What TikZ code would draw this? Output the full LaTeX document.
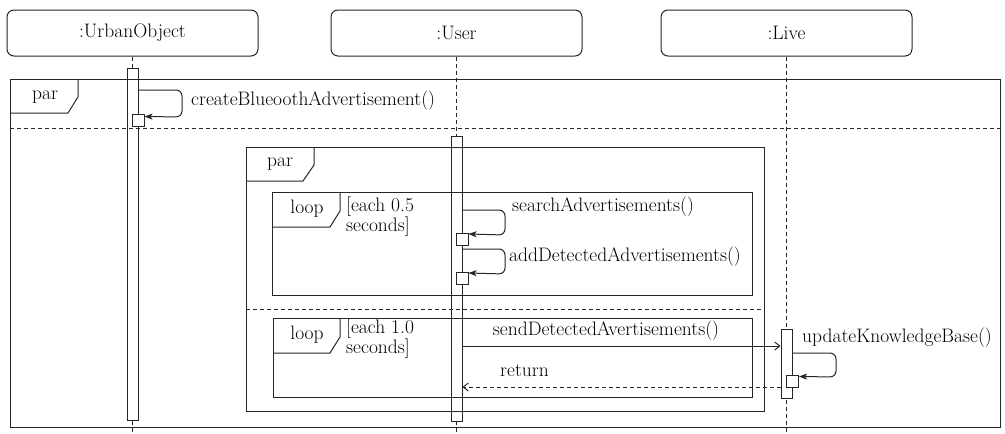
\documentclass[tikz,border=0pt]{standalone}
\usetikzlibrary{positioning,arrows.meta,calc}

\tikzset{
  head/.style={draw, line width=1pt, rounded corners=7pt, minimum width=251pt, minimum height=46pt},
  lifeline/.style={line width=1pt, dash pattern=on 4pt off 3pt},
  actbar/.style={draw, fill=white, line width=1pt, minimum width=11pt, inner sep=0pt},
  execbox/.style={draw, fill=white, line width=1pt, minimum size=12pt, inner sep=0pt},
  fragment/.style={draw, line width=1pt},
  callmsg/.style={line width=1pt, rounded corners=6pt, -{Stealth[length=8pt,width=6pt,inset=2pt]}},
  asyncmsg/.style={line width=1pt, -{Straight Barb[length=5pt,width=8pt]}},
  replymsg/.style={line width=1pt, dash pattern=on 4pt off 3pt, -{Straight Barb[length=5pt,width=8pt]}},
  lbl/.style={inner sep=0pt}
}

\begin{document}
\begin{tikzpicture}[x=1pt, y=-1pt, font=\fontsize{19.5}{20}\selectfont, draw=black!85]
    \useasboundingbox (0,0) rectangle (1005,434);

    % lifeline heads
    \node[head] (urban) at (132.5,33) {:UrbanObject};
    \node[head] (user) at (456.5,33) {:User};
    \node[head] (live) at (786.5,33) {:Live};

    \coordinate (urbanend) at (132.5,434);
    \coordinate (userend) at (456.5,434);
    \coordinate (liveend) at (786.5,434);
    \draw[lifeline] (urban.south) -- (urbanend);
    \draw[lifeline] (user.south) -- (userend);
    \draw[lifeline] (live.south) -- (liveend);

    % activation bars
    \node[actbar, minimum height=352pt] (urbanbar) at (132.5,244) {};
    \node[actbar, minimum height=285pt] (userbar) at (456.5,278.5) {};
    \node[actbar, minimum height=69pt] (livebar) at (786.5,363.5) {};

    % outer par fragment
    \draw[fragment] (10,79) rectangle (1000,427);
    \draw[fragment] (10,113) -- (68,113) -- (78,97) -- (78,79);
    \node[lbl] (par1) at (45,97) {par};
    \draw[fragment, dash pattern=on 4pt off 3pt] (10,128) -- (1000,128);

    % inner par fragment
    \draw[fragment] (246,147) rectangle (764,411);
    \draw[fragment] (246,181) -- (303,181) -- (314,165) -- (314,147);
    \node[lbl] (par2) at (280,164) {par};
    \draw[fragment, dash pattern=on 4pt off 3pt] (246,309) -- (764,309);

    % loop fragments
    \draw[fragment] (272,192) rectangle (752,295);
    \draw[fragment] (272,227) -- (330,227) -- (340,211) -- (340,192);
    \node[lbl] (loop1) at (307,209) {loop};
    \node[lbl, anchor=west, align=left] (guard1) at (346,217) {[each 0.5\\seconds]};

    \draw[fragment] (273,318) rectangle (752,397);
    \draw[fragment] (273,353) -- (330,353) -- (340,337) -- (340,318);
    \node[lbl] (loop2) at (307,335) {loop};
    \node[lbl, anchor=west, align=left] (guard2) at (346,339) {[each 1.0\\seconds]};

    % execution boxes
    \node[execbox] (urbanexec) at (138,120) {};
    \node[execbox] (userexec1) at (462,239.5) {};
    \node[execbox] (userexec2) at (462,278.5) {};
    \node[execbox] (liveexec) at (792.5,381) {};

    % messages
    \draw[callmsg] (urbanbar.east |- 0,90) -- (182,90) -- (182,117) -- ($(urbanexec.north east)+(0,3)$);
    \node[lbl, anchor=west] (createlbl) at (191,101) {createBlueoothAdvertisement()};

    \draw[callmsg] (userbar.east |- 0,210) -- (505,210) -- (505,235) -- ($(userexec1.north east)+(0,1)$);
    \node[lbl, anchor=west] (searchlbl) at (512,207) {searchAdvertisements()};

    \draw[callmsg] (userbar.east |- 0,249) -- (505,249) -- (505,274) -- ($(userexec2.north east)+(0,1)$);
    \node[lbl, anchor=west] (addlbl) at (509,257) {addDetectedAdvertisements()};

    \draw[asyncmsg] (userbar.east |- 0,346) -- (livebar.west |- 0,346);
    \node[lbl] (sendlbl) at (606,331) {sendDetectedAvertisements()};

    \draw[replymsg] (livebar.west |- 0,387) -- (userbar.east |- 0,387);
    \node[lbl, anchor=west] (returnlbl) at (500,371) {return};

    \draw[callmsg] (livebar.east |- 0,353) -- (836,353) -- (836,377) -- ($(liveexec.north east)+(0,2)$);
    \node[lbl, anchor=west] (updatelbl) at (802,338) {updateKnowledgeBase()};
\end{tikzpicture}
\end{document}
